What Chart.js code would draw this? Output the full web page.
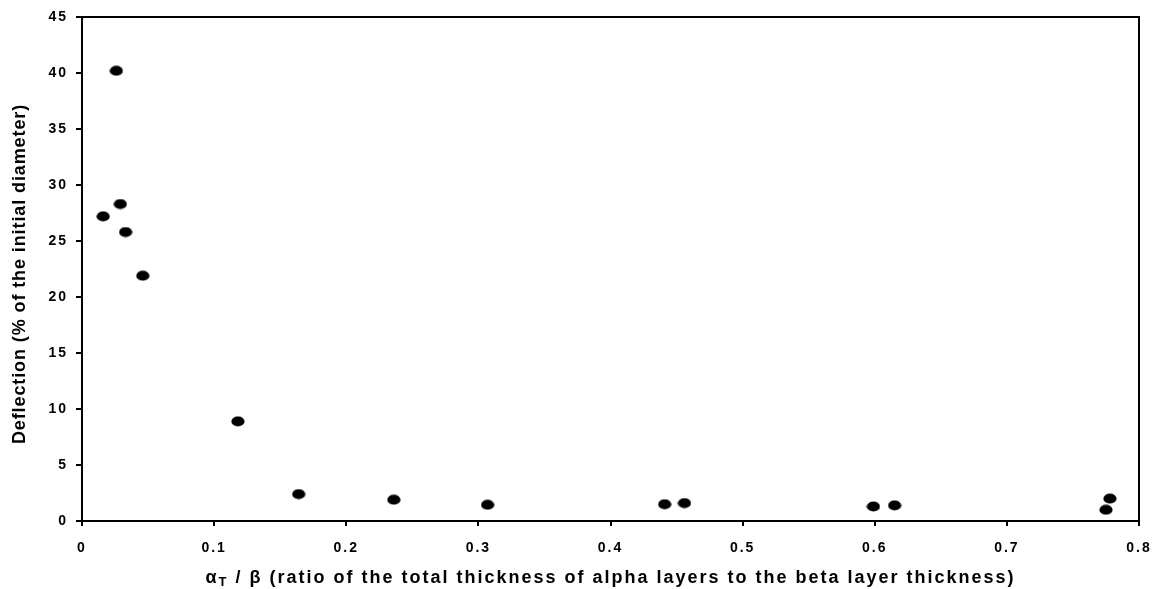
<!DOCTYPE html>
<html lang="en">
<head>
  <meta charset="UTF-8">
  <title>Deflection vs alpha/beta thickness ratio</title>
  <style>
    * { margin: 0; padding: 0; box-sizing: border-box; }
    html, body { background: #fff; width: 1157px; height: 589px; overflow: hidden; }
    #wrap { position: relative; width: 1157px; height: 589px; }
  </style>
  <script src="https://cdn.jsdelivr.net/npm/chart.js"></script>
</head>
<body>
  <div id="wrap"><canvas id="deflChart" width="1157" height="589"></canvas></div>

  <script>
    // measured samples: thickness ratio vs deflection
    const ratio      = [0.016, 0.026, 0.029, 0.033, 0.046, 0.118, 0.164, 0.236, 0.307, 0.441, 0.456, 0.599, 0.615, 0.775, 0.778];
    const deflection = [27.2, 40.2, 28.3, 25.8, 21.9, 8.9, 2.4, 1.9, 1.45, 1.5, 1.6, 1.3, 1.4, 1.0, 2.0];

    const xTicks = [0, 0.1, 0.2, 0.3, 0.4, 0.5, 0.6, 0.7, 0.8];
    const yTicks = [0, 5, 10, 15, 20, 25, 30, 35, 40, 45];

    const FONT = "'Liberation Sans', Arial, sans-serif";

    // filled ellipse used as the marker
    const dot = document.createElement('canvas');
    dot.width = 14; dot.height = 11;
    (() => {
      const c = dot.getContext('2d');
      c.fillStyle = '#000';
      c.beginPath();
      c.ellipse(7, 5.5, 6.6, 5.1, 0, 0, Math.PI * 2);
      c.fill();
    })();

    // wider tracking for the tick labels
    const tracking = {
      id: 'tracking',
      beforeDraw(chart) { chart.ctx.letterSpacing = '2px'; }
    };

    // frame round the plot + axis titles (x title has a subscript)
    const frameAndTitles = {
      id: 'frameAndTitles',
      afterDraw(chart) {
        const { ctx, chartArea: a } = chart;
        ctx.save();
        ctx.strokeStyle = '#000';
        ctx.lineWidth = 2;
        ctx.beginPath();
        ctx.moveTo(a.left, a.top);
        ctx.lineTo(a.right, a.top);
        ctx.lineTo(a.right, a.bottom);
        ctx.stroke();

        ctx.fillStyle = '#000';
        ctx.textBaseline = 'middle';

        // x title
        const big = 'bold 18px ' + FONT, small = 'bold 13px ' + FONT;
        const parts = [
          ['α', big, 0], ['T', small, 4],
          [' / β (ratio of the total thickness of alpha layers to the beta layer thickness)', big, 0]
        ];
        ctx.letterSpacing = '2px';
        let w = 0;
        parts.forEach(p => { ctx.font = p[1]; w += ctx.measureText(p[0]).width; });
        let x = (a.left + a.right) / 2 - w / 2;
        ctx.textAlign = 'left';
        parts.forEach(p => {
          ctx.font = p[1];
          ctx.fillText(p[0], x, 578 + p[2]);
          x += ctx.measureText(p[0]).width;
        });

        // y title
        ctx.letterSpacing = '0.9px';
        ctx.translate(20, 274);
        ctx.rotate(-Math.PI / 2);
        ctx.textAlign = 'center';
        ctx.font = big;
        ctx.fillText('Deflection (% of the initial diameter)', 0, 0);
        ctx.restore();
      }
    };

    new Chart(document.getElementById('deflChart'), {
      type: 'scatter',
      data: {
        datasets: [{
          data: ratio.map((r, i) => ({ x: r, y: deflection[i] })),
          pointStyle: dot,
          pointRadius: 6,
          pointHoverRadius: 6
        }]
      },
      options: {
        responsive: false,
        animation: false,
        layout: { padding: { left: 0, right: 18, top: 17, bottom: 0 } },
        plugins: { legend: { display: false }, tooltip: { enabled: false } },
        scales: {
          x: {
            type: 'linear',
            min: 0, max: 0.8,
            afterBuildTicks: s => { s.ticks = xTicks.map(v => ({ value: v })); },
            afterFit: s => { s.height = 68; s.paddingLeft = 0; s.paddingRight = 0; },
            border: { color: '#000', width: 2 },
            grid: { drawOnChartArea: false, color: '#000', lineWidth: 2, tickLength: 5 },
            ticks: {
              color: '#000', padding: 14, maxRotation: 0,
              font: { family: FONT, size: 14, weight: 'bold' },
              callback: v => String(v)
            }
          },
          y: {
            type: 'linear',
            min: 0, max: 45,
            afterBuildTicks: s => { s.ticks = yTicks.map(v => ({ value: v })); },
            afterFit: s => { s.width = 82; s.paddingTop = 0; s.paddingBottom = 0; },
            border: { color: '#000', width: 2 },
            grid: { drawOnChartArea: false, color: '#000', lineWidth: 2, tickLength: 6 },
            ticks: {
              color: '#000', padding: 8,
              font: { family: FONT, size: 14, weight: 'bold' },
              callback: v => String(v)
            }
          }
        }
      },
      plugins: [tracking, frameAndTitles]
    });
  </script>
</body>
</html>
